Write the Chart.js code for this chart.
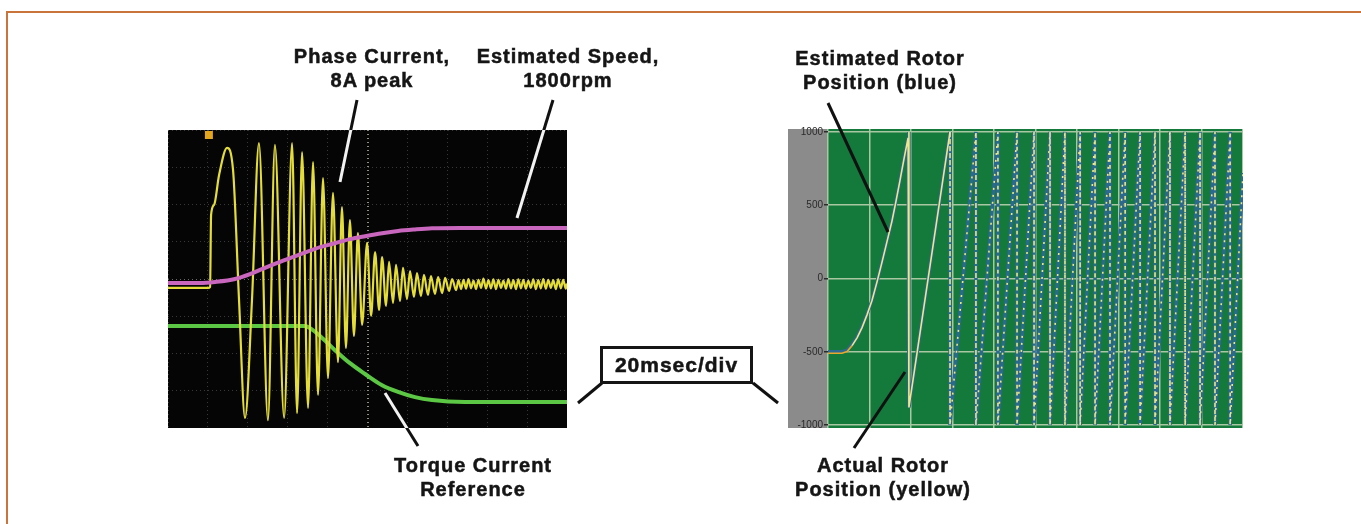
<!DOCTYPE html>
<html>
<head>
<meta charset="utf-8">
<title>Sensorless start-up scope traces</title>
<script src="https://cdn.jsdelivr.net/npm/chart.js@4/dist/chart.umd.min.js"></script>
<style>
  html, body { margin: 0; padding: 0; background: #fff; }
  body { width: 1361px; height: 524px; position: relative; overflow: hidden;
         font-family: "Liberation Sans", Arial, sans-serif; }
  .frame { position: absolute; left: 6px; top: 11px; width: 1400px; height: 600px;
           border-top: 2px solid #c8743a; border-left: 2px solid #c8743a; }
  .scope { position: absolute; }
  #leftScope { left: 168px; top: 130px; width: 399px; height: 298px; }
  #rightScope { left: 788px; top: 122px; width: 455px; height: 313px; }
  .label { position: absolute; font-weight: bold; font-size: 20px; line-height: 24px; letter-spacing: 1px;
           text-align: center; color: #151515; white-space: nowrap; transform: translateX(-50%);
           -webkit-text-stroke: 0.5px #151515; }
  .divbox { position: absolute; left: 600px; top: 346px; width: 153px; height: 38px;
            box-sizing: border-box; border: 3px solid #151515; font-weight: bold; font-size: 21px;
            letter-spacing: 1px; line-height: 32px; text-align: center; color: #151515;
            -webkit-text-stroke: 0.5px #151515; }
  #overlay { position: absolute; left: 0; top: 0; pointer-events: none; }
</style>
</head>
<body>
<div class="frame"></div>

<div class="scope" id="leftScope"><canvas id="leftCanvas"></canvas></div>
<div class="scope" id="rightScope"><canvas id="rightCanvas"></canvas></div>
<canvas id="overlay" width="1361" height="524"></canvas>

<div class="label" style="left:372px; top:44px;">Phase Current,<br>8A peak</div>
<div class="label" style="left:568px; top:44px;">Estimated Speed,<br>1800rpm</div>
<div class="label" style="left:473px; top:453px;">Torque Current<br>Reference</div>
<div class="label" style="left:880px; top:46px;">Estimated Rotor<br>Position (blue)</div>
<div class="label" style="left:883px; top:453px;">Actual Rotor<br>Position (yellow)</div>
<div class="divbox">20msec/div</div>

<script>
// left scope: time in ms (20 ms/div), level in screen divisions
const phaseCurrent = [
    [0, -0.24], [20.1, -0.24], [21.1, -0.21], [21.6, 1.72], [23.1, 1.99], [25.6, 2.79], [29.6, 3.52],
    [32.6, 2.93], [35.6, -0.56], [38.6, -3.73], [42.1, -0.56], [45.6, 3.65], [50.1, -3.79], [53.6, 3.60],
    [58.2, -3.73], [62.2, 3.65], [64.7, -3.60], [67.2, 3.41], [70.2, -3.46], [72.7, 3.14], [75.2, -3.11],
    [77.7, 2.71], [80.2, -2.66], [82.7, 2.31], [85.2, -2.23], [87.2, 1.93], [89.2, -1.85], [91.2, 1.58],
    [93.2, -1.53], [95.2, 1.23], [97.3, -1.23], [99.8, 0.97], [101.8, -0.99], [103.8, 0.72], [105.8, -0.83],
    [107.3, 0.59], [109.3, -0.72], [110.8, 0.46], [112.8, -0.64], [114.3, 0.38], [116.3, -0.59], [117.8, 0.30],
    [119.8, -0.54], [121.3, 0.21], [123.3, -0.48], [124.8, 0.16], [126.8, -0.46], [128.3, 0.11], [130.3, -0.43],
    [131.8, 0.08], [133.8, -0.40], [135.4, 0.05], [137.4, -0.38], [138.9, 0.03], [140.9, -0.32], [142.4, 0.0],
    [144.4, -0.30], [145.6, -0.03], [146.9, -0.27], [148.1, -0.02], [149.4, -0.26], [150.6, 0.0], [151.9, -0.25],
    [153.1, -0.04], [154.4, -0.27], [155.6, -0.02], [156.9, -0.24], [158.1, 0.01], [159.4, -0.26], [160.6, -0.03],
    [161.9, -0.25], [163.1, -0.01], [164.4, -0.27], [165.6, -0.02], [166.9, -0.24], [168.1, -0.04], [169.4, -0.26],
    [170.6, 0.0], [171.9, -0.25], [173.1, -0.03], [174.4, -0.27], [175.6, -0.01], [176.9, -0.25], [178.1, -0.02],
    [179.4, -0.26], [180.6, -0.04], [181.9, -0.24], [183.1, -0.01], [184.4, -0.27], [185.6, -0.03], [186.9, -0.25],
    [188.1, 0.0], [189.4, -0.26], [190.6, -0.02], [191.9, -0.24], [193.1, -0.03], [194.4, -0.27], [195.6, -0.01],
    [196.9, -0.25], [198.1, -0.02], [199.4, -0.26], [200, -0.12]
];
const estimatedSpeed = [
    [0, -0.11], [16.0, -0.11], [23.6, -0.08], [33.6, 0], [41.1, 0.13], [48.6, 0.30], [57.1, 0.48], [65.2, 0.64],
    [73.7, 0.81], [82.2, 0.94], [91.2, 1.07], [98.8, 1.15], [107.3, 1.23], [115.3, 1.29], [123.8, 1.33],
    [132.3, 1.36], [146.4, 1.37], [166.4, 1.37], [200, 1.37]
];
const torqueRef = [
    [0, -1.26], [68.7, -1.26], [71.2, -1.32], [76.2, -1.53], [83.7, -1.91], [91.2, -2.26], [98.8, -2.55],
    [107.3, -2.85], [115.3, -3.03], [123.8, -3.17], [132.3, -3.25], [148.8, -3.30], [200, -3.30]
];

// right scope: rotor position counts vs time in ms
const rotorTime = [
    0, 6.7, 9.2, 11.6, 14.0, 16.4, 18.8, 21.2, 23.6, 26.0, 28.4, 30.8, 32.8, 34.7, 36.6, 38.6, 39.0,
    39.0, 58.8, 58.8, 71.3, 71.3, 81.9, 81.9, 91.1, 91.1, 99.3, 99.3, 107.0, 107.0, 114.2, 114.2,
    121.5, 121.5, 128.7, 128.7, 135.9, 135.9, 143.2, 143.2, 150.4, 150.4, 157.6, 157.6, 164.8, 164.8,
    172.1, 172.1, 179.3, 179.3, 186.5, 186.5, 193.8, 193.8, 200
];
const estimatedPos = [
    -500, -500, -490, -450, -400, -330, -245, -150, -25, 110, 250, 390, 530, 670, 815, 960, 1000,
    -880, 1000, -1000, 1000, -1000, 1000, -1000, 1000, -1000, 1000, -1000, 1000, -1000, 1000, -1000,
    1000, -1000, 1000, -1000, 1000, -1000, 1000, -1000, 1000, -1000, 1000, -1000, 1000, -1000,
    1000, -1000, 1000, -1000, 1000, -1000, 1000, -1000, 720
];
const actualPos = [
    -510, -510, -498, -458, -405, -335, -248, -150, -25, 110, 250, 390, 530, 670, 815, 960, 1000,
    -880, 1000, -1000, 1000, -1000, 1000, -1000, 1000, -1000, 1000, -1000, 1000, -1000, 1000, -1000,
    1000, -1000, 1000, -1000, 1000, -1000, 1000, -1000, 1000, -1000, 1000, -1000, 1000, -1000,
    1000, -1000, 1000, -1000, 1000, -1000, 1000, -1000, 720
];
const rotorTicks = [-1000, -500, 0, 500, 1000];

const toPoints = arr => arr.map(([x, y]) => ({ x, y }));

// fills the screen colour behind the traces
const scopeBackground = {
    id: 'scopeBackground',
    beforeDraw(chart, args, opts) {
        const { ctx, chartArea } = chart;
        const h = chartArea.bottom - chartArea.top;
        ctx.save();
        ctx.fillStyle = opts.outer;
        ctx.fillRect(0, chartArea.top, chartArea.left, h);
        ctx.fillStyle = opts.screen;
        ctx.fillRect(chartArea.left, chartArea.top, chartArea.right - chartArea.left, h);
        ctx.restore();
    },
    afterDraw(chart, args, opts) {
        if (!opts.marker) return;
        // trigger marker at top of the screen
        const { ctx, chartArea } = chart;
        const x = chart.scales.x.getPixelForValue(opts.marker);
        ctx.save();
        ctx.fillStyle = '#e2a51c';
        ctx.fillRect(x - 4, chartArea.top + 1, 8, 8);
        ctx.restore();
    }
};

const leftChart = new Chart(document.getElementById('leftCanvas'), {
    type: 'line',
    data: {
        datasets: [
            {
                label: 'Estimated Speed',
                data: toPoints(estimatedSpeed),
                borderColor: '#c966bd',
                borderWidth: 4,
                pointRadius: 0,
                cubicInterpolationMode: 'monotone',
                order: 1
            },
            {
                label: 'Phase Current',
                data: toPoints(phaseCurrent),
                borderColor: '#e3dc3a',
                borderWidth: 2.2,
                pointRadius: 0,
                cubicInterpolationMode: 'monotone',
                order: 2
            },
            {
                label: 'Torque Current Reference',
                data: toPoints(torqueRef),
                borderColor: '#5cc744',
                borderWidth: 4,
                pointRadius: 0,
                cubicInterpolationMode: 'monotone',
                order: 3
            }
        ]
    },
    options: {
        animation: false,
        responsive: true,
        maintainAspectRatio: false,
        layout: { padding: 0, autoPadding: false },
        plugins: {
            legend: { display: false },
            tooltip: { enabled: false },
            scopeBackground: { outer: '#000', screen: '#050505', marker: 20.5 }
        },
        scales: {
            x: {
                type: 'linear', min: 0, max: 200,
                ticks: { display: false, stepSize: 20 },
                grid: {
                    drawTicks: false,
                    color: c => c.tick.value === 100 ? 'rgba(190,190,170,0.75)' : 'rgba(120,120,120,0.45)',
                    lineWidth: c => c.tick.value === 100 ? 2 : 1
                },
                border: { display: false, dash: [1, 3] }
            },
            y: {
                type: 'linear', min: -4, max: 4,
                ticks: { display: false, stepSize: 1 },
                grid: {
                    drawTicks: false,
                    color: c => c.tick.value === 0 ? 'rgba(170,170,170,0.6)' : 'rgba(120,120,120,0.45)'
                },
                border: { display: false, dash: [1, 3] }
            }
        }
    },
    plugins: [scopeBackground]
});

const rightChart = new Chart(document.getElementById('rightCanvas'), {
    type: 'line',
    data: {
        datasets: [
            {
                label: 'Actual Rotor Position (yellow)',
                data: rotorTime.map((t, i) => ({ x: t, y: actualPos[i] })),
                borderColor: '#efe68a',
                borderWidth: 1.6,
                pointRadius: 0,
                tension: 0,
                segment: {
                    borderDash: c => c.p0.parsed.x > 39.5 ? [2, 5] : undefined,
                    borderColor: c => c.p1.parsed.x < 12 ? '#e8a82a' : undefined
                },
                order: 1
            },
            {
                label: 'Estimated Rotor Position (blue)',
                data: rotorTime.map((t, i) => ({ x: t, y: estimatedPos[i] })),
                borderColor: '#2c6890',
                borderWidth: 3.5,
                pointRadius: 0,
                tension: 0,
                order: 2
            }
        ]
    },
    options: {
        animation: false,
        responsive: true,
        maintainAspectRatio: false,
        layout: { padding: 0, autoPadding: false },
        plugins: {
            legend: { display: false },
            tooltip: { enabled: false },
            scopeBackground: { outer: '#8b8b8b', screen: '#137a3b' }
        },
        scales: {
            x: {
                type: 'linear', min: 0, max: 200,
                ticks: { display: false, stepSize: 20 },
                grid: { drawTicks: false, color: '#a9c7a3', lineWidth: 1.5 },
                border: { display: false }
            },
            y: {
                type: 'linear', min: -1020, max: 1020,
                afterBuildTicks: axis => { axis.ticks = rotorTicks.map(v => ({ value: v })); },
                afterFit: axis => { axis.width = 40; },
                ticks: {
                    color: '#2a2a2a', padding: 1,
                    callback: v => String(v),
                    font: { size: 10, family: '"Liberation Sans Narrow", "Liberation Sans", sans-serif' }
                },
                grid: { color: '#a9c7a3', lineWidth: 1.5, tickLength: 4, tickColor: '#2a2a2a' },
                border: { display: false }
            }
        }
    },
    plugins: [scopeBackground]
});

// callout lines
const overlay = document.getElementById('overlay').getContext('2d');
const leftScreen = [168, 130, 399, 298];
const callouts = [
    [357, 100, 340, 182],
    [553, 100, 517, 218],
    [385, 393, 418, 446],
    [828, 103, 888, 232],
    [905, 372, 854, 448],
    [602, 383, 578, 403],
    [753, 383, 778, 403]
];

function strokeLines(color) {
    overlay.strokeStyle = color;
    overlay.lineWidth = 3;
    overlay.lineCap = 'butt';
    callouts.forEach(([x1, y1, x2, y2]) => {
        overlay.beginPath();
        overlay.moveTo(x1, y1);
        overlay.lineTo(x2, y2);
        overlay.stroke();
    });
}

strokeLines('#111');
overlay.save();
overlay.beginPath();
overlay.rect(...leftScreen);
overlay.clip();
strokeLines('#f2f2f2');
overlay.restore();
</script>
</body>
</html>
